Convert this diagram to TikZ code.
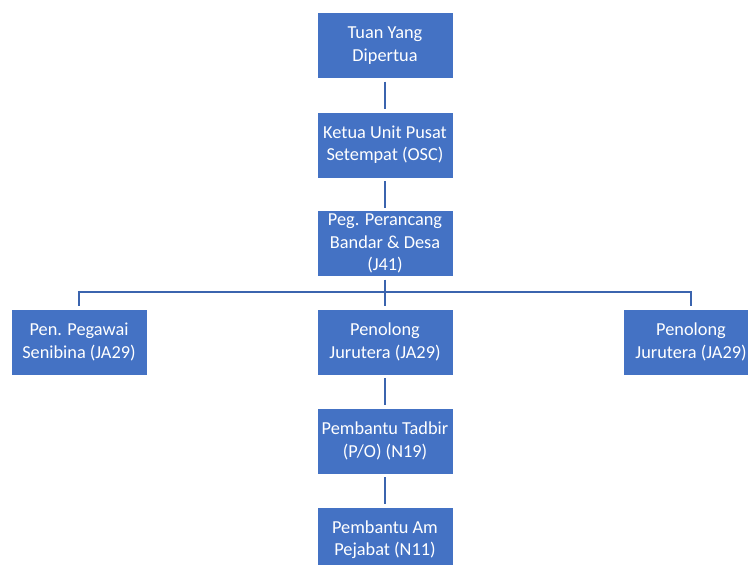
\documentclass[tikz,border=0pt]{standalone}
\usepackage{fontspec}
\setmainfont{Carlito}
\definecolor{boxblue}{HTML}{4472C4}
\definecolor{linkblue}{HTML}{3B64AE}
\begin{document}
\begin{tikzpicture}[x=1pt,y=-1pt,
    unit/.style={fill=boxblue,draw=white,line width=1pt,text=white,
      minimum width=136pt,minimum height=66pt,inner sep=0pt,align=center,
      font=\fontsize{18.3}{22.3}\selectfont},
    link/.style={draw=linkblue,line width=2.2pt,shorten <=2.5pt,shorten >=2.5pt}]
                \clip (0,0) rectangle (748,565);
                \useasboundingbox (0,0) rectangle (748,565);
                \node[unit] (tyd) at (385,45.5) {Tuan Yang\\Dipertua};
                \node[unit] (ketua) at (385,145) {Ketua Unit Pusat\\Setempat (OSC)};
                \node[unit] (pegpr) at (385,243.5) {Peg. Perancang\\Bandar \& Desa\\(J41)};
                \node[unit] (penpeg) at (79,342) {Pen. Pegawai\\Senibina (JA29)};
                \node[unit] (penjm) at (385,342) {Penolong\\Jurutera (JA29)};
                \node[unit] (penjr) at (691,342) {Penolong\\Jurutera (JA29)};
                \node[unit] (pemtad) at (385,441) {Pembantu Tadbir\\(P/O) (N19)};
                \node[unit] (pemam) at (385,540) {Pembantu Am\\Pejabat (N11)};

                \coordinate (bar) at (385,292);
                \coordinate (barl) at (79,292);
                \coordinate (barr) at (691,292);

                \draw[link] (tyd) to (ketua);
                \draw[link] (ketua) to (pegpr);
                \draw[link,shorten >=0pt] (pegpr) to (bar);
                \draw[link,shorten <=-1.1pt,shorten >=-1.1pt] (barl) to (barr);
                \draw[link,shorten <=0pt] (bar) to (penjm);
                \draw[link,shorten <=-1.1pt] (barl) to (penpeg);
                \draw[link,shorten <=-1.1pt] (barr) to (penjr);
                \draw[link] (penjm) to (pemtad);
                \draw[link] (pemtad) to (pemam);
            \end{tikzpicture}
\end{document}
